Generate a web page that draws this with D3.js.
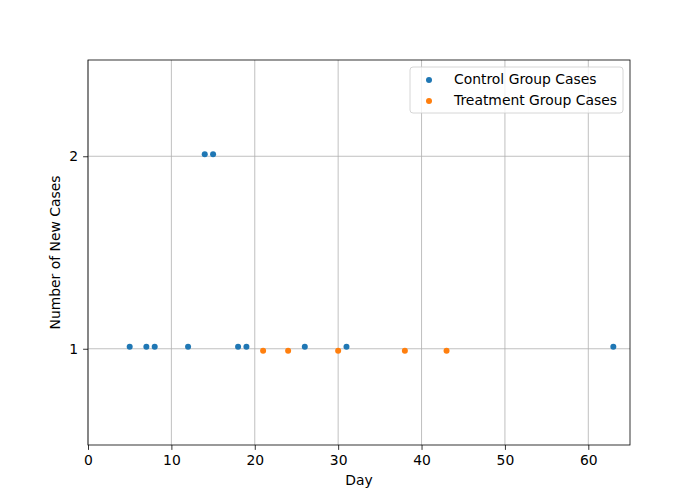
<!DOCTYPE html>
<meta charset="utf-8">
<head>
  <title>New Cases per Day</title>
  <style>
    body { margin: 0; background: #fff; }
    text { font-family: "DejaVu Sans", sans-serif; }
  </style>
</head>
<script src="https://d3js.org/d3.v7.min.js"></script>
<div id="chart"></div>
<script>

// data (values slightly jittered like the original)
var controlDays  = [5, 7, 8, 12, 14, 15, 18, 19, 26, 31, 63];
var controlCases = [1.01, 1.01, 1.01, 1.01, 2.01, 2.01, 1.01, 1.01, 1.01, 1.01, 1.01];
var treatDays  = [21, 24, 30, 38, 43];
var treatCases = [0.99, 0.99, 0.99, 0.99, 0.99];
var xTicks = [0, 10, 20, 30, 40, 50, 60];
var yTicks = [1, 2];

var width = 700, height = 500;
var margin = {top: 60, right: 70, bottom: 55, left: 88};
var fs = "13.9px";

var svg = d3.select("#chart")
  .append("svg")
    .attr("width", width)
    .attr("height", height);

var x = d3.scaleLinear().domain([0, 65]).range([margin.left, width - margin.right]);
var y = d3.scaleLinear().domain([0.5, 2.5]).range([height - margin.bottom, margin.top]);

// grid
svg.append("g").selectAll("line").data(xTicks).enter().append("line")
  .attr("x1", function(d) { return x(d); })
  .attr("x2", function(d) { return x(d); })
  .attr("y1", y(0.5)).attr("y2", y(2.5))
  .attr("stroke", "#b0b0b0").attr("stroke-width", 0.8);
svg.append("g").selectAll("line").data(yTicks).enter().append("line")
  .attr("y1", function(d) { return y(d); })
  .attr("y2", function(d) { return y(d); })
  .attr("x1", x(0)).attr("x2", x(65))
  .attr("stroke", "#b0b0b0").attr("stroke-width", 0.8);

// axes
var xAxis = svg.append("g")
  .attr("transform", "translate(0," + y(0.5) + ")")
  .call(d3.axisBottom(x).tickValues(xTicks).tickSize(4.9).tickPadding(4.9));
var yAxis = svg.append("g")
  .attr("transform", "translate(" + x(0) + ",0)")
  .call(d3.axisLeft(y).tickValues(yTicks).tickFormat(d3.format("d")).tickSize(4.9).tickPadding(4.9));
[xAxis, yAxis].forEach(function(a) {
  a.select(".domain").remove();
  a.selectAll("text").style("font-size", fs).style("fill", "#000").style("font-family", "DejaVu Sans");
  a.selectAll(".tick line").attr("stroke", "#000").attr("stroke-width", 0.8);
});

// frame
svg.append("rect")
  .attr("x", x(0)).attr("y", y(2.5))
  .attr("width", x(65) - x(0)).attr("height", y(0.5) - y(2.5))
  .attr("fill", "none").attr("stroke", "#000").attr("stroke-width", 0.8);

// points
svg.append("g").selectAll("circle").data(controlDays).enter().append("circle")
  .attr("cx", function(d) { return x(d); })
  .attr("cy", function(d, i) { return y(controlCases[i]); })
  .attr("r", 3)
  .attr("fill", "#1f77b4");
svg.append("g").selectAll("circle").data(treatDays).enter().append("circle")
  .attr("cx", function(d) { return x(d); })
  .attr("cy", function(d, i) { return y(treatCases[i]); })
  .attr("r", 3)
  .attr("fill", "#ff7f0e");

// labels
svg.append("text")
  .attr("x", (x(0) + x(65)) / 2).attr("y", height - 15)
  .attr("text-anchor", "middle").style("font-size", fs)
  .text("Day");
svg.append("text")
  .attr("transform", "translate(60," + ((y(0.5) + y(2.5)) / 2) + ") rotate(-90)")
  .attr("text-anchor", "middle").style("font-size", fs)
  .text("Number of New Cases");

// legend
var legend = svg.append("g").attr("transform", "translate(410,67)");
legend.append("rect")
  .attr("width", 213).attr("height", 46).attr("rx", 3)
  .attr("fill", "#fff").attr("fill-opacity", 0.8)
  .attr("stroke", "#ccc").attr("stroke-width", 0.8);
var items = [
  {name: "Control Group Cases", color: "#1f77b4"},
  {name: "Treatment Group Cases", color: "#ff7f0e"}
];
items.forEach(function(it, i) {
  legend.append("circle").attr("cx", 19).attr("cy", 12 + i * 21 + 1).attr("r", 3).attr("fill", it.color);
  legend.append("text").attr("x", 44).attr("y", 12 + i * 21 + 5)
    .style("font-size", fs).text(it.name);
});

</script>
